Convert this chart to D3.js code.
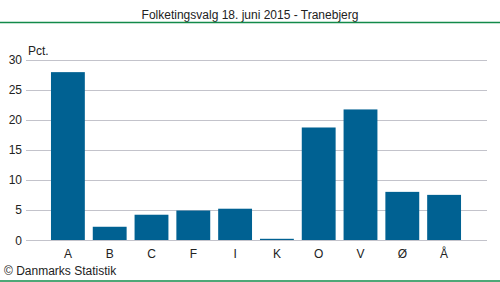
<!DOCTYPE html>
<html>
<head>
<meta charset="utf-8">
<script src="https://cdn.jsdelivr.net/npm/d3@7"></script>
<style>
  body { margin: 0; background: #fff; }
  svg text { font-family: "Liberation Sans", Arial, sans-serif; font-size: 12px; fill: #222; }
</style>
</head>
<body>
<div id="chart"></div>
<script>
var parties = ['A', 'B', 'C', 'F', 'I', 'K', 'O', 'V', 'Ø', 'Å'];
var shares = [27.9, 2.2, 4.2, 4.9, 5.2, 0.2, 18.7, 21.7, 8.0, 7.5];
var yTicks = [0, 5, 10, 15, 20, 25, 30];

var width = 500, height = 282;
var svg = d3.select('#chart').append('svg')
    .attr('width', width)
    .attr('height', height);

// title and green rules
svg.append('text')
    .attr('x', 250).attr('y', 19)
    .attr('text-anchor', 'middle')
    .text('Folketingsvalg 18. juni 2015 - Tranebjerg');
svg.append('line')
    .attr('x1', 0).attr('x2', width).attr('y1', 22.5).attr('y2', 22.5)
    .attr('stroke', '#138a4a').attr('stroke-width', 1.5);
svg.append('line')
    .attr('x1', 0).attr('x2', width).attr('y1', 281).attr('y2', 281)
    .attr('stroke', '#138a4a').attr('stroke-width', 1.5);

var y = d3.scaleLinear().domain([0, 30]).range([240, 59.5]);
var x = d3.scaleBand().domain(parties).range([47, 465]).paddingInner(0.19).paddingOuter(0.095);

// gridlines
svg.selectAll('.grid')
    .data(yTicks).enter()
  .append('line')
    .attr('x1', 26).attr('x2', 487)
    .attr('y1', function(d) { return Math.round(y(d)) + 0.5; })
    .attr('y2', function(d) { return Math.round(y(d)) + 0.5; })
    .attr('stroke', '#c3c3cb').attr('stroke-width', 1);

// y tick labels
svg.selectAll('.ytick')
    .data(yTicks).enter()
  .append('text')
    .attr('x', 22)
    .attr('y', function(d) { return y(d) + 4.5; })
    .attr('text-anchor', 'end')
    .text(function(d) { return d; });

svg.append('text').attr('x', 28).attr('y', 55).text('Pct.');

// bars
svg.selectAll('rect')
    .data(shares).enter()
  .append('rect')
    .attr('x', function(d, i) { return x(parties[i]); })
    .attr('width', x.bandwidth())
    .attr('y', function(d) { return y(d); })
    .attr('height', function(d) { return y(0) - y(d); })
    .attr('fill', '#006192');

// category labels
svg.selectAll('.xlab')
    .data(parties).enter()
  .append('text')
    .attr('x', function(d) { return x(d) + x.bandwidth() / 2; })
    .attr('y', 258)
    .attr('text-anchor', 'middle')
    .text(function(d) { return d; });

svg.append('text').attr('x', 4).attr('y', 275).text('© Danmarks Statistik');
</script>
</body>
</html>
